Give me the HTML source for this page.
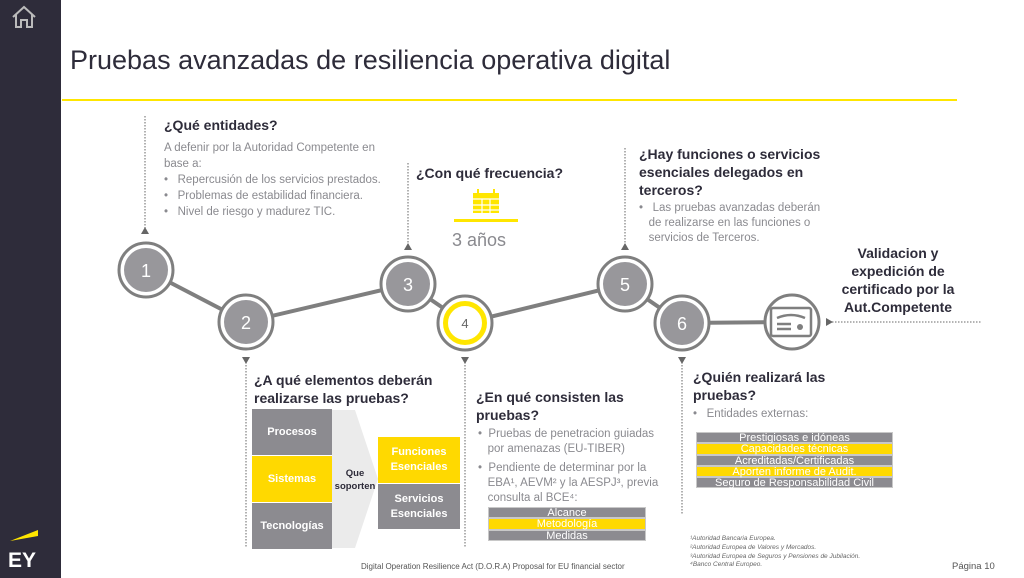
<!DOCTYPE html>
<html><head><meta charset="utf-8"><style>
*{margin:0;padding:0;box-sizing:border-box}
body{width:1024px;height:578px;position:relative;background:#fff;font-family:"Liberation Sans",sans-serif;overflow:hidden}
.a{position:absolute}
.h{font-weight:bold;color:#2e2c3a;font-size:14px;line-height:18px}
.t{color:#8a8a8f;font-size:11.5px;line-height:16px}
.bx{position:absolute;display:flex;align-items:center;justify-content:center;text-align:center;color:#fff;font-weight:bold;font-size:11px;line-height:15px}
.g{background:#8c8b90}.y{background:#ffd900}
.row{height:11.3px;line-height:11px;font-size:11px;text-align:center;color:#fff;border:1px solid #c8c8c8}
</style></head><body>
<div class="a" style="left:0;top:0;width:61px;height:578px;background:#2e2c3a"></div>
<svg class="a" style="left:10px;top:4px" width="28" height="26" viewBox="0 0 28 26"><path d="M3 13 L14 3 L25 13 M6 10 V23 H11 V16 H17 V23 H22 V10" fill="none" stroke="#bbb" stroke-width="2"/></svg>
<svg class="a" style="left:8px;top:525px" width="40" height="45"><polygon points="2,16 30,5 30,11" fill="#ffe600"/><text x="0" y="42" font-family="Liberation Sans" font-weight="bold" font-size="21" fill="#fff">EY</text></svg>
<div class="a" style="left:70px;top:45px;font-size:27px;color:#2e2c3a">Pruebas avanzadas de resiliencia operativa digital</div>
<div class="a" style="left:62px;top:99px;width:895px;height:2px;background:#ffe600"></div>

<svg class="a" style="left:0;top:0" width="1024" height="578">
<g stroke="#888" stroke-width="1.3" stroke-dasharray="1.5 1.5" fill="none">
<line x1="145" y1="116" x2="145" y2="228"/><line x1="408" y1="163" x2="408" y2="245"/><line x1="625" y1="148" x2="625" y2="245"/>
<line x1="246" y1="362" x2="246" y2="548"/><line x1="465" y1="362" x2="465" y2="548"/><line x1="682" y1="362" x2="682" y2="515"/>
<line x1="832" y1="322" x2="982" y2="322"/>
</g>
<g fill="#666"><polygon points="141,234 149,234 145,227"/><polygon points="404,250 412,250 408,243"/><polygon points="621,250 629,250 625,243"/>
<polygon points="242,357 250,357 246,364"/><polygon points="461,357 469,357 465,364"/><polygon points="678,357 686,357 682,364"/><polygon points="826,318 826,326 833,322"/></g>
<polyline points="146,270 246,322 408,284 465,323 625,284 682,323 792,322" fill="none" stroke="#7f7f7f" stroke-width="4"/>
<g stroke="#7f7f7f" stroke-width="3" fill="#fff">
<circle cx="146" cy="270" r="27"/><circle cx="246" cy="322" r="27"/><circle cx="408" cy="284" r="27"/><circle cx="465" cy="323" r="27"/><circle cx="625" cy="284" r="27"/><circle cx="682" cy="323" r="27"/><circle cx="792" cy="322" r="27"/></g>
<g fill="#98979b"><circle cx="146" cy="270" r="22"/><circle cx="246" cy="322" r="22"/><circle cx="408" cy="284" r="22"/><circle cx="625" cy="284" r="22"/><circle cx="682" cy="323" r="22"/></g>
<circle cx="465" cy="323" r="19.5" fill="#fff" stroke="#ffe600" stroke-width="5"/>
<g font-family="Liberation Sans" font-size="18" fill="#fff" text-anchor="middle"><text x="146" y="277">1</text><text x="246" y="329">2</text><text x="408" y="291">3</text><text x="625" y="291">5</text><text x="682" y="330">6</text></g>
<text x="465" y="328" font-family="Liberation Sans" font-size="13" fill="#666" text-anchor="middle">4</text>
<g stroke="#7f7f7f" stroke-width="2.5" fill="none"><rect x="771" y="308" width="40" height="28" rx="2"/><path d="M777 318 Q791 312 805 318"/><line x1="777" y1="324" x2="791" y2="324"/><line x1="777" y1="329" x2="791" y2="329"/></g>
<circle cx="800" cy="327" r="3" fill="#7f7f7f"/>
<g fill="#ffe600"><rect x="473" y="193" width="26" height="20"/><rect x="477" y="189" width="2" height="5"/><rect x="493" y="189" width="2" height="5"/><rect x="454" y="219" width="64" height="3"/></g>
<g stroke="#fff" stroke-width="1.2"><line x1="473" y1="199" x2="499" y2="199"/><line x1="473" y1="205" x2="499" y2="205"/><line x1="473" y1="210" x2="499" y2="210"/><line x1="482" y1="199" x2="482" y2="213"/><line x1="490" y1="199" x2="490" y2="213"/></g>
<polygon points="332,410 355,410 378,479 355,548 332,548" fill="#ebebeb"/>
</svg>

<div class="a h" style="left:164px;top:116px">¿Qué entidades?</div>
<div class="a t" style="left:164px;top:140px;width:240px">A defenir por la Autoridad Competente en<br>base a:<br>•&nbsp;&nbsp; Repercusión de los servicios prestados.<br>•&nbsp;&nbsp; Problemas de estabilidad financiera.<br>•&nbsp;&nbsp; Nivel de riesgo y madurez TIC.</div>
<div class="a h" style="left:416px;top:164px">¿Con qué frecuencia?</div>
<div class="a" style="left:452px;top:230px;font-size:18px;color:#8a8a8f">3 años</div>
<div class="a h" style="left:639px;top:145px;width:200px">¿Hay funciones o servicios esenciales delegados en terceros?</div>
<div class="a t" style="left:639px;top:201px;width:200px;line-height:15px">•&nbsp;&nbsp; Las pruebas avanzadas deberán<br>&nbsp;&nbsp; de realizarse en las funciones o<br>&nbsp;&nbsp; servicios de Terceros.</div>
<div class="a h" style="left:834px;top:244px;width:128px;text-align:center">Validacion y expedición de certificado por la Aut.Competente</div>
<div class="a h" style="left:254px;top:371px;width:200px">¿A qué elementos deberán realizarse las pruebas?</div>
<div class="bx g" style="left:252px;top:409px;width:80px;height:46px">Procesos</div>
<div class="bx y" style="left:252px;top:456px;width:80px;height:46px">Sistemas</div>
<div class="bx g" style="left:252px;top:503px;width:80px;height:46px">Tecnologías</div>
<div class="a" style="left:333px;top:467px;width:44px;text-align:center;font-size:9.5px;line-height:13px;font-weight:bold;color:#2e2c3a">Que<br>soporten</div>
<div class="bx y" style="left:378px;top:437px;width:82px;height:46px">Funciones<br>Esenciales</div>
<div class="bx g" style="left:378px;top:484px;width:82px;height:45px">Servicios<br>Esenciales</div>
<div class="a h" style="left:476px;top:388px;width:175px">¿En qué consisten las pruebas?</div>
<div class="a t" style="left:478px;top:427px;width:190px;line-height:15px">•&nbsp; Pruebas de penetracion guiadas<br>&nbsp;&nbsp; por amenazas (EU-TIBER)<br><div style="height:4px"></div>•&nbsp; Pendiente de determinar por la<br>&nbsp;&nbsp; EBA¹, AEVM² y la AESPJ³, previa<br>&nbsp;&nbsp; consulta al BCE⁴:</div>
<div class="a" style="left:488px;top:507px;width:158px"><div class="row g">Alcance</div><div class="row y">Metodología</div><div class="row g">Medidas</div></div>
<div class="a h" style="left:693px;top:368px;width:175px">¿Quién realizará las pruebas?</div>
<div class="a t" style="left:693px;top:406px">•&nbsp;&nbsp; Entidades externas:</div>
<div class="a" style="left:696px;top:432px;width:197px"><div class="row g">Prestigiosas e idóneas</div><div class="row y">Capacidades técnicas</div><div class="row g">Acreditadas/Certificadas</div><div class="row y">Aporten informe de Audit.</div><div class="row g">Seguro de Responsabilidad Civil</div></div>
<div class="a" style="left:690px;top:535px;font-size:6.5px;line-height:8.8px;font-style:italic;color:#666">¹Autoridad Bancaria Europea.<br>²Autoridad Europea de Valores y Mercados.<br>³Autoridad Europea de Seguros y Pensiones de Jubilación.<br>⁴Banco Central Europeo.</div>
<div class="a" style="left:361px;top:562px;font-size:8px;color:#555">Digital Operation Resilience Act (D.O.R.A) Proposal for EU financial sector</div>
<div class="a" style="left:952px;top:561px;font-size:9.5px;color:#555">Página 10</div>
</body></html>
